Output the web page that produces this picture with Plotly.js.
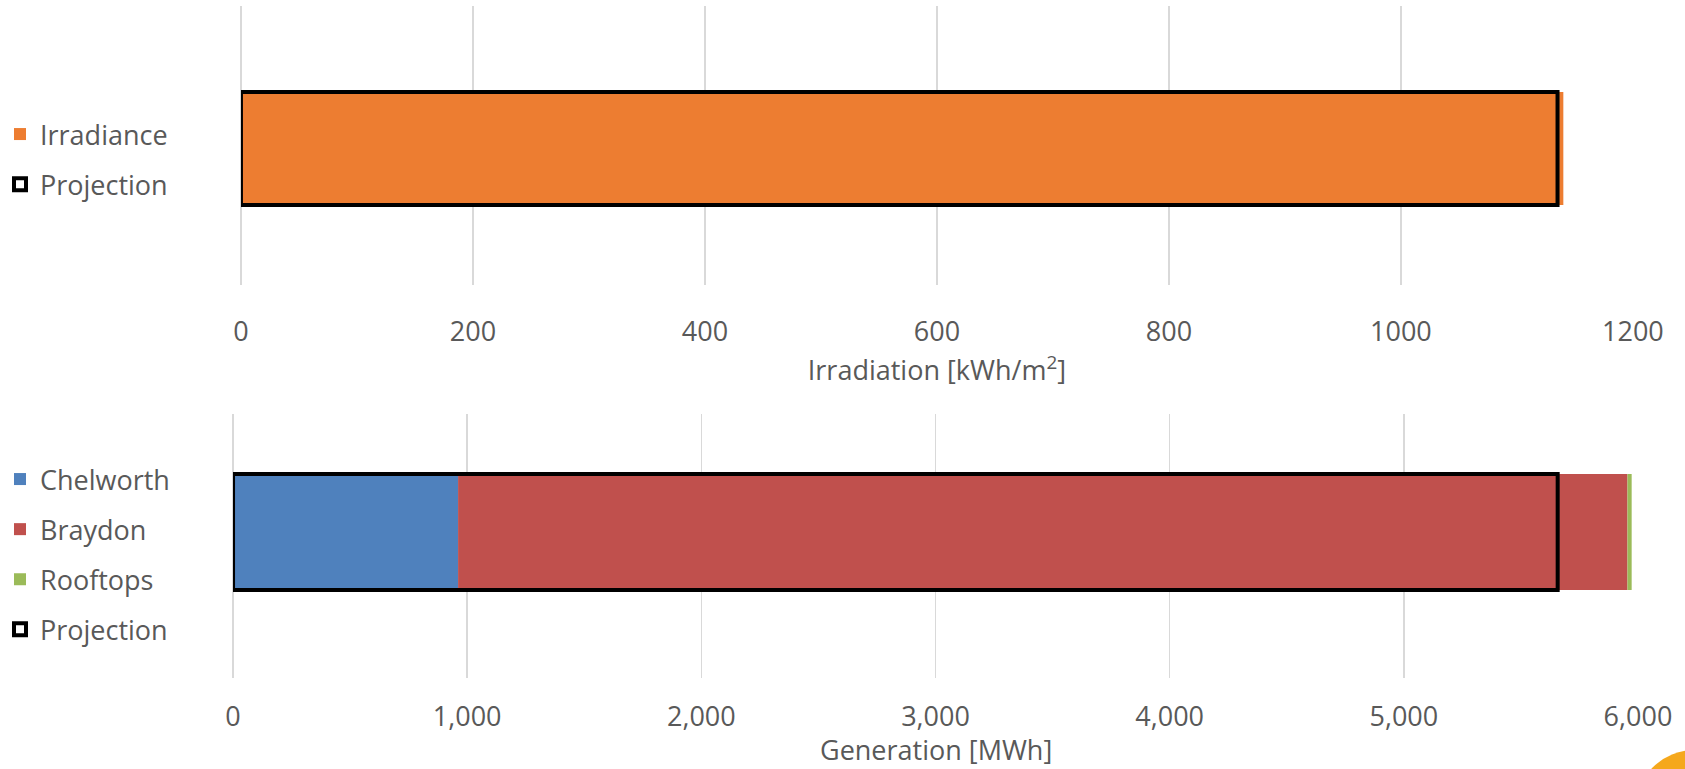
<!DOCTYPE html>
<html>
<head>
<meta charset="utf-8">
<script src="https://cdn.plot.ly/plotly-3.0.1.min.js"></script>
<style>html,body{margin:0;padding:0;background:#fff}#chart{width:1685px;height:769px}</style>
</head>
<body>
<div id="chart"></div>
<script>
// ---- data ----
const category = ["Site"];
const irradiance = [1140];
const irradiationProjection = [1135];
const chelworth = [961];
const braydon = [4994];
const rooftops = [18];
const generationProjection = [5657];
const irrTicks = [0, 200, 400, 600, 800, 1000, 1200];
const genTicks = [0, 1000, 2000, 3000, 4000, 5000, 6000];

const FONT = "Open Sans, Calibri, sans-serif";
const TXT = "#595959";
const yPos = [0];

const braydonBase = chelworth.map(v => v);
const rooftopsBase = chelworth.map((v, i) => v + braydon[i]);

const traces = [
  {type:'bar', orientation:'h', name:'Irradiance', x:irradiance, y:yPos, width:1,
   marker:{color:'#ED7D31', line:{width:0}}, xaxis:'x', yaxis:'y', legend:'legend', legendgroup:'a', hovertext:category},
  {type:'bar', orientation:'h', name:'Projection', x:irradiationProjection, y:yPos, width:1,
   marker:{color:'rgba(255,255,255,0)', line:{color:'#000', width:4}}, xaxis:'x', yaxis:'y', legend:'legend', legendgroup:'b'},
  {type:'bar', orientation:'h', name:'Chelworth', x:chelworth, y:yPos, width:1,
   marker:{color:'#4F81BD', line:{width:0}}, xaxis:'x2', yaxis:'y2', legend:'legend2', legendgroup:'c'},
  {type:'bar', orientation:'h', name:'Braydon', x:braydon, base:braydonBase, y:yPos, width:1,
   marker:{color:'#C0504D', line:{width:0}}, xaxis:'x2', yaxis:'y2', legend:'legend2', legendgroup:'d'},
  {type:'bar', orientation:'h', name:'Rooftops', x:rooftops, base:rooftopsBase, y:yPos, width:1,
   marker:{color:'#9BBB59', line:{width:0}}, xaxis:'x2', yaxis:'y2', legend:'legend2', legendgroup:'e'},
  {type:'bar', orientation:'h', name:'Projection', x:generationProjection, y:yPos, width:1,
   marker:{color:'rgba(255,255,255,0)', line:{color:'#000', width:4}}, xaxis:'x2', yaxis:'y2', legend:'legend2', legendgroup:'f'}
];

const axisCommon = {
  showgrid:true, gridcolor:'#d9d9d9', gridwidth:1.5, zeroline:true, zerolinecolor:'#d9d9d9', zerolinewidth:1.5,
  showline:false, ticks:'', ticklabelstandoff:28, tickfont:{family:FONT, size:27, color:TXT}, fixedrange:true
};

const legendCommon = {
  x:0, xanchor:'left', yanchor:'top', bgcolor:'rgba(0,0,0,0)', borderwidth:0,
  font:{family:FONT, size:27, color:TXT}, tracegroupgap:12, traceorder:'grouped'
};

const layout = {
  width:1685, height:769,
  margin:{l:0, r:0, t:0, b:0},
  paper_bgcolor:'#fff', plot_bgcolor:'#fff',
  barmode:'overlay',
  showlegend:true,
  font:{family:FONT, color:TXT},
  xaxis: Object.assign({}, axisCommon, {
    domain:[0.1430, 0.9691], anchor:'y', range:[0, 1200], tickvals:irrTicks, ticktext:irrTicks.map(String),
    title:{text:'Irradiation [kWh/m<sup>2</sup>]', font:{family:FONT, size:27, color:TXT}, standoff:6}
  }),
  yaxis:{domain:[0.6294, 0.9922], anchor:'x', range:[-1.208, 1.261], showgrid:false, zeroline:false, showticklabels:false, fixedrange:true},
  xaxis2: Object.assign({}, axisCommon, {
    domain:[0.1383, 0.9721], anchor:'y2', range:[0, 6000], tickvals:genTicks, ticktext:genTicks.map(v => v.toLocaleString('en-US')),
    ticklabelstandoff:20
  }),
  yaxis2:{domain:[0.1183, 0.4616], anchor:'x2', range:[-1.259, 1.017], showgrid:false, zeroline:false, showticklabels:false, fixedrange:true},
  legend: Object.assign({}, legendCommon, {y:1 - 110/769}),
  legend2: Object.assign({}, legendCommon, {y:1 - 455/769}),
  annotations:[
    {text:'Generation [MWh]', xref:'paper', yref:'paper', x:(0.1383 + 0.9721) / 2, y:0,
     xanchor:'center', yanchor:'bottom', yshift:0, borderpad:0, showarrow:false, font:{family:FONT, size:27, color:TXT}}
  ],
  shapes:[
    {type:'circle', xref:'paper', yref:'paper', x0:1635/1685, x1:1755/1685, y0:1 - 870/769, y1:1 - 750/769,
     fillcolor:'#F5A81C', line:{width:0}, layer:'above'}
  ]
};

Plotly.newPlot('chart', traces, layout, {displayModeBar:false, staticPlot:true});
</script>
</body>
</html>
